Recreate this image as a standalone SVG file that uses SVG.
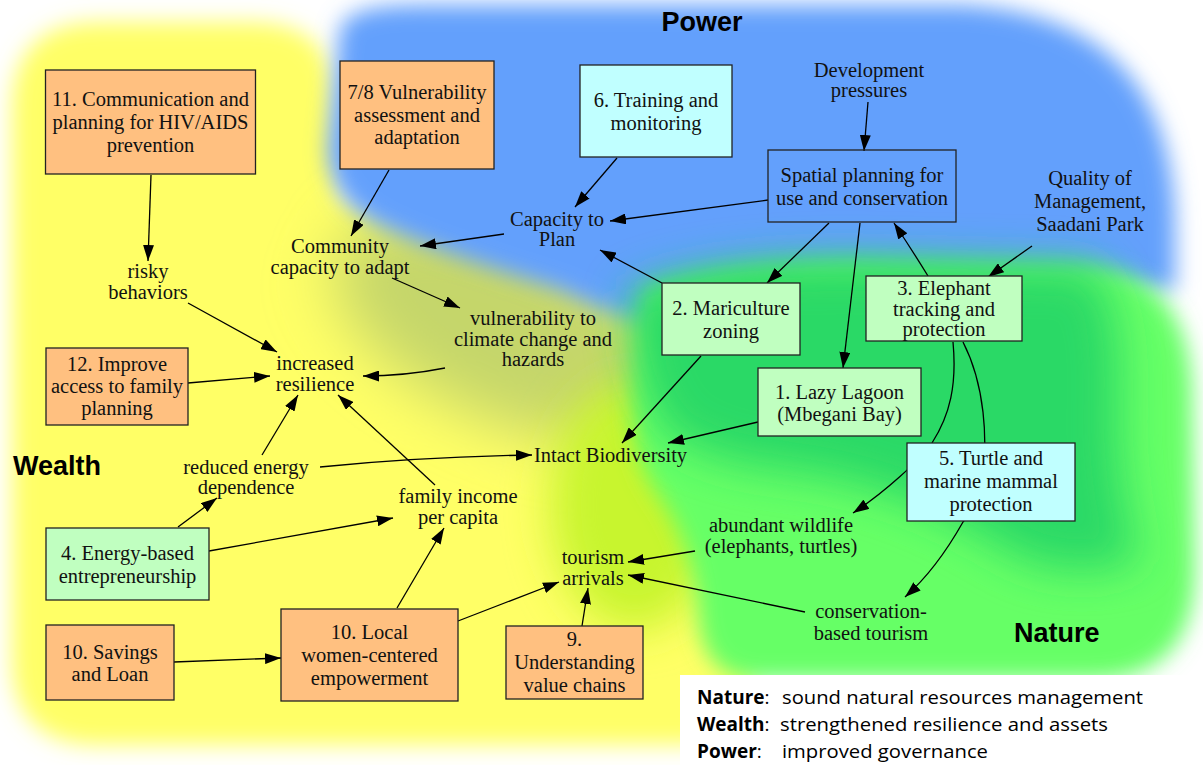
<svg xmlns="http://www.w3.org/2000/svg" width="1203" height="765" viewBox="0 0 1203 765">
<defs>
<filter id="b12" x="-20%" y="-20%" width="140%" height="140%"><feGaussianBlur stdDeviation="11"/></filter>
<filter id="b25" x="-40%" y="-40%" width="180%" height="180%"><feGaussianBlur stdDeviation="22"/></filter>
<filter id="b30" x="-60%" y="-60%" width="220%" height="220%"><feGaussianBlur stdDeviation="30"/></filter>
<marker id="ah" viewBox="0 0 16 11" refX="16" refY="5.5" markerWidth="16" markerHeight="11" markerUnits="userSpaceOnUse" orient="auto"><path d="M0,0 L16,5.5 L0,11 z" fill="#000"/></marker>
</defs>
<style>
.t{font-family:"Liberation Serif","Times New Roman",serif;font-size:20.5px;fill:#111;text-anchor:middle}
.box{stroke:#222;stroke-width:1.3}
.or{fill:#ffc080}.gr{fill:#c0ffc0}.cy{fill:#c0ffff}.nf{fill:none}
.e{fill:none;stroke:#000;stroke-width:1.3;marker-end:url(#ah)}
.region{font-family:"Liberation Sans",Arial,sans-serif;font-weight:bold;font-size:27px;fill:#000}
.leg{font-family:"Open Sans","Noto Sans",sans-serif;font-size:19px;fill:#000}
</style>
<rect width="1203" height="765" fill="#fff"/>
<g id="background">
<path filter="url(#b12)" fill="#ffff66" d="M100,22 L250,22 Q330,22 333,90 L340,200 L700,330 L765,745 L100,745 Q12,745 12,660 L12,110 Q12,22 100,22 Z"/>
<ellipse filter="url(#b30)" fill="#c5d66a" cx="505" cy="330" rx="185" ry="90" transform="rotate(25 505 330)"/>
<ellipse filter="url(#b25)" fill="#c8f52f" cx="635" cy="505" rx="85" ry="125"/>
<path filter="url(#b12)" fill="#64a0fc" d="M340,30 Q345,5 420,5 L960,5 Q1175,15 1175,230 L1175,290 L820,280 Q720,300 690,330 Q640,330 560,290 Q430,250 380,225 Q330,200 328,150 Z"/>
<path filter="url(#b12)" fill="#66ff66" d="M645,290 Q720,265 850,262 L1090,265 Q1192,275 1192,400 L1195,570 Q1195,680 1090,680 L760,680 Q700,680 698,610 Q692,540 655,490 Q628,450 635,380 Z"/>
<path filter="url(#b25)" fill="#2bd966" d="M630,295 Q700,262 850,262 L1090,268 Q1125,300 1118,420 Q1120,510 1140,560 Q1060,585 1000,545 Q900,485 800,472 Q700,462 665,430 Q630,380 630,295 Z"/>
<text class="region" x="702" y="31" text-anchor="middle">Power</text>
<text class="region" x="13" y="475">Wealth</text>
<text class="region" x="1014" y="642">Nature</text>
</g>
<g id="legend">
<rect x="680" y="675" width="523" height="90" fill="#fff"/>
<text class="leg" x="697" y="704"><tspan font-weight="bold">Nature</tspan>:</text>
<text class="leg" x="782" y="704" textLength="361" lengthAdjust="spacingAndGlyphs">sound natural resources management</text>
<text class="leg" x="697" y="731"><tspan font-weight="bold">Wealth</tspan>:</text>
<text class="leg" x="780" y="731" textLength="328" lengthAdjust="spacingAndGlyphs">strengthened resilience and assets</text>
<text class="leg" x="697" y="758"><tspan font-weight="bold">Power</tspan>:</text>
<text class="leg" x="782" y="758" textLength="206" lengthAdjust="spacingAndGlyphs">improved governance</text>
</g>
<g id="connectors">
<path class="e" d="M151,175 L148,261"/>
<path class="e" d="M389,170 L351,236"/>
<path class="e" d="M617,158 L575,207"/>
<path class="e" d="M768,200 L610,221"/>
<path class="e" d="M504,234 L420,246"/>
<path class="e" d="M868,102 L864,151"/>
<path class="e" d="M829,223 L767,283"/>
<path class="e" d="M860,223 L843,368"/>
<path class="e" d="M928,276 Q912,250 894,223"/>
<path class="e" d="M1032,246 L988,277"/>
<path class="e" d="M662,283 L600,250"/>
<path class="e" d="M701,356 L622,443"/>
<path class="e" d="M758,422 L668,443"/>
<path class="e" d="M953,342 C957,385 950,415 932,443 C920,460 885,492 853,513"/>
<path class="e" d="M963,342 C985,385 988,440 982,480 C978,505 970,515 963,522 C950,545 930,575 905,597"/>
<path class="e" d="M695,551 L628,562"/>
<path class="e" d="M805,612 L628,575"/>
<path class="e" d="M582,626 L588,588"/>
<path class="e" d="M458,621 L559,582"/>
<path class="e" d="M397,608 L444,528"/>
<path class="e" d="M174,662 L281,658"/>
<path class="e" d="M209,551 L393,518"/>
<path class="e" d="M178,527 L217,498"/>
<path class="e" d="M262,455 L298,395"/>
<path class="e" d="M320,467 Q420,457 532,455"/>
<path class="e" d="M435,485 L338,395"/>
<path class="e" d="M188,303 L277,352"/>
<path class="e" d="M188,383 L270,376"/>
<path class="e" d="M445,368 Q405,376 363,376"/>
<path class="e" d="M392,278 L460,308"/>
</g>
<g id="n11"><rect class="box or" x="45.5" y="70" width="210" height="104"/><text class="t"><tspan x="150.5" y="106">11. Communication and</tspan><tspan x="150.5" y="129.3">planning for HIV/AIDS</tspan><tspan x="150.5" y="152.3">prevention</tspan></text></g>
<g id="n78"><rect class="box or" x="340" y="61" width="154" height="108"/><text class="t"><tspan x="417" y="99">7/8 Vulnerability</tspan><tspan x="417" y="122">assessment and</tspan><tspan x="417" y="144">adaptation</tspan></text></g>
<g id="n6"><rect class="box cy" x="580" y="65" width="152" height="92"/><text class="t"><tspan x="656" y="107">6. Training and</tspan><tspan x="656" y="130">monitoring</tspan></text></g>
<g id="spatial"><rect class="box nf" x="768" y="150" width="188" height="72"/><text class="t"><tspan x="862" y="182">Spatial planning for</tspan><tspan x="862" y="204.5">use and conservation</tspan></text></g>
<g id="n2"><rect class="box gr" x="662" y="283" width="138" height="72"/><text class="t"><tspan x="731" y="315">2. Mariculture</tspan><tspan x="731" y="337.5">zoning</tspan></text></g>
<g id="n1"><rect class="box gr" x="758" y="368" width="163" height="68"/><text class="t"><tspan x="839.5" y="398.5">1. Lazy Lagoon</tspan><tspan x="839.5" y="421">(Mbegani Bay)</tspan></text></g>
<g id="n3"><rect class="box gr" x="866" y="276" width="156" height="65"/><text class="t"><tspan x="944" y="295">3. Elephant</tspan><tspan x="944" y="316">tracking and</tspan><tspan x="944" y="336">protection</tspan></text></g>
<g id="n5"><rect class="box cy" x="907" y="443" width="168" height="78"/><text class="t"><tspan x="991" y="464.5">5. Turtle and</tspan><tspan x="991" y="488">marine mammal</tspan><tspan x="991" y="511">protection</tspan></text></g>
<g id="n12"><rect class="box or" x="46" y="348" width="142" height="77"/><text class="t"><tspan x="117" y="371">12. Improve</tspan><tspan x="117" y="393">access to family</tspan><tspan x="117" y="415">planning</tspan></text></g>
<g id="n4"><rect class="box gr" x="46" y="528" width="163" height="72"/><text class="t"><tspan x="127.5" y="560">4. Energy-based</tspan><tspan x="127.5" y="582.5">entrepreneurship</tspan></text></g>
<g id="n10s"><rect class="box or" x="46" y="625" width="128" height="75"/><text class="t"><tspan x="110" y="658.5">10. Savings</tspan><tspan x="110" y="681">and Loan</tspan></text></g>
<g id="n10l"><rect class="box or" x="281" y="609" width="177" height="92"/><text class="t"><tspan x="369.5" y="638.5">10. Local</tspan><tspan x="369.5" y="661.5">women-centered</tspan><tspan x="369.5" y="684.5">empowerment</tspan></text></g>
<g id="n9"><rect class="box or" x="506" y="626" width="137" height="73"/><text class="t"><tspan x="574.5" y="646">9.</tspan><tspan x="574.5" y="668.5">Understanding</tspan><tspan x="574.5" y="692">value chains</tspan></text></g>
<g id="dev"><text class="t"><tspan x="869" y="77">Development</tspan><tspan x="869" y="97">pressures</tspan></text></g>
<g id="quality"><text class="t"><tspan x="1090" y="184.5">Quality of</tspan><tspan x="1090" y="208">Management,</tspan><tspan x="1090" y="231">Saadani Park</tspan></text></g>
<g id="capacity"><text class="t"><tspan x="557" y="226">Capacity to</tspan><tspan x="557" y="246">Plan</tspan></text></g>
<g id="community"><text class="t"><tspan x="340" y="253">Community</tspan><tspan x="340" y="274">capacity to adapt</tspan></text></g>
<g id="risky"><text class="t"><tspan x="148" y="278">risky</tspan><tspan x="148" y="299">behaviors</tspan></text></g>
<g id="resilience"><text class="t"><tspan x="315" y="370">increased</tspan><tspan x="315" y="390.5">resilience</tspan></text></g>
<g id="vulnerability"><text class="t"><tspan x="533" y="325">vulnerability to</tspan><tspan x="533" y="345.5">climate change and</tspan><tspan x="533" y="366">hazards</tspan></text></g>
<g id="energy"><text class="t"><tspan x="246" y="473.5">reduced energy</tspan><tspan x="246" y="494">dependence</tspan></text></g>
<g id="biodiversity"><text class="t" x="610.5" y="461.5">Intact Biodiversity</text></g>
<g id="income"><text class="t"><tspan x="458" y="503">family income</tspan><tspan x="458" y="523.5">per capita</tspan></text></g>
<g id="tourism"><text class="t"><tspan x="593" y="564">tourism</tspan><tspan x="593" y="585">arrivals</tspan></text></g>
<g id="wildlife"><text class="t"><tspan x="781" y="531.5">abundant wildlife</tspan><tspan x="781" y="552.5">(elephants, turtles)</tspan></text></g>
<g id="conservation"><text class="t"><tspan x="871" y="618">conservation-</tspan><tspan x="871" y="640">based tourism</tspan></text></g>
</svg>
